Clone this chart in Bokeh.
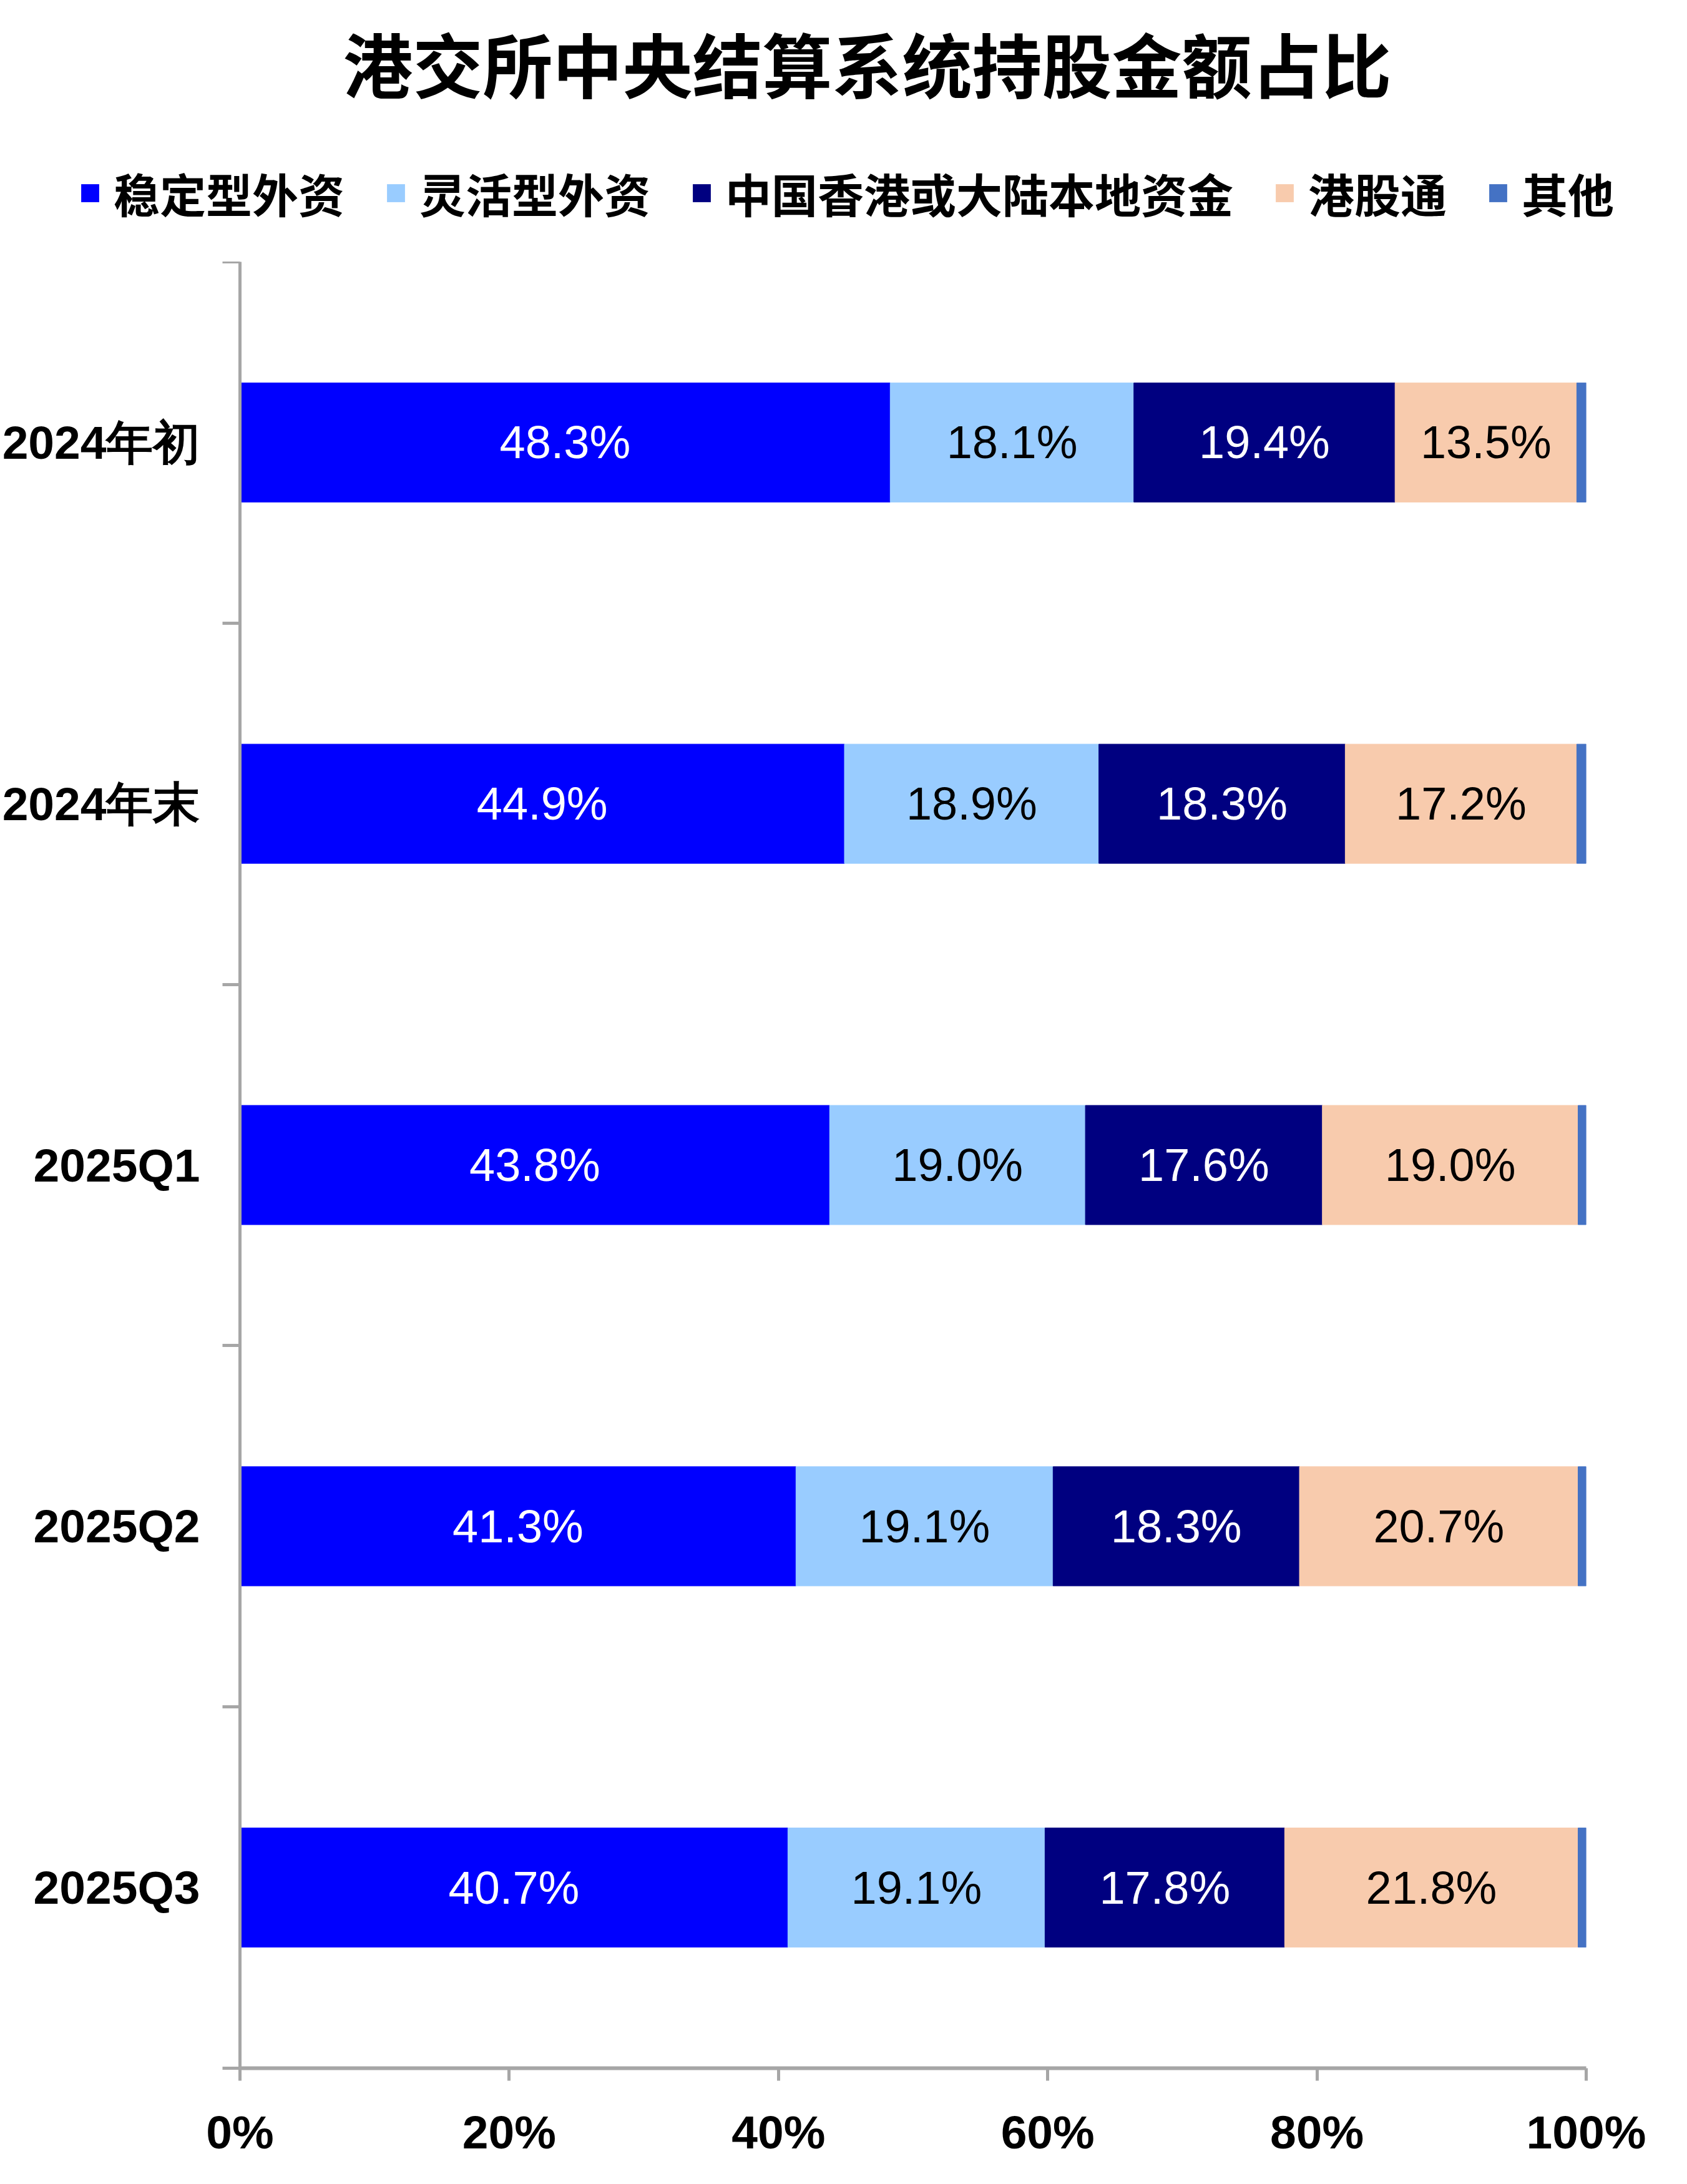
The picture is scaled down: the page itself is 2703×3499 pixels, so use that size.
from bokeh.plotting import figure
from bokeh.layouts import column
from bokeh.models import (Range1d, FixedTicker, PrintfTickFormatter, ColumnDataSource,
                          Legend, LegendItem)
from bokeh.core.properties import value
from bokeh.embed import file_html
from bokeh.resources import INLINE

# ---------------- data ----------------
title_text = "港交所中央结算系统持股金额占比"
categories = ["2024年初", "2024年末", "2025Q1", "2025Q2", "2025Q3"]
series_names = ["稳定型外资", "灵活型外资", "中国香港或大陆本地资金", "港股通", "其他"]
stable_foreign = [48.3, 44.9, 43.8, 41.3, 40.7]
flexible_foreign = [18.1, 18.9, 19.0, 19.1, 19.1]
local_funds = [19.4, 18.3, 17.6, 18.3, 17.8]
connect_funds = [13.5, 17.2, 19.0, 20.7, 21.8]
others = [0.7, 0.7, 0.6, 0.6, 0.6]
x_ticks = [0, 20, 40, 60, 80, 100]

colors = ["#0000FF", "#99CCFF", "#000080", "#F8CBAD", "#4472C4"]
label_colors = ["#FFFFFF", "#000000", "#FFFFFF", "#000000", None]

series = [stable_foreign, flexible_foreign, local_funds, connect_funds, others]
keys = ["s%d" % i for i in range(len(series))]

n = len(categories)
ypos = [n - 0.5 - i for i in range(n)]

src = dict(y=ypos, cat=categories)
for k, s in zip(keys, series):
    src[k] = s
source = ColumnDataSource(src)

lx, ly, lt, lc = [], [], [], []
for i in range(n):
    start = 0.0
    for j, s in enumerate(series):
        v = s[i]
        if label_colors[j] is not None:
            lx.append(start + v / 2.0)
            ly.append(ypos[i])
            lt.append("%.1f%%" % v)
            lc.append(label_colors[j])
        start += v
label_source = ColumnDataSource(dict(x=lx, y=ly, text=lt, color=lc))

# ---------------- layout constants ----------------
W = 2686
HT = 419             # header figure (title + legend)
HM = 3480 - HT       # main chart figure
BL = 382             # left border of main frame
FW = 2159            # frame width
FH = 2894            # frame height

# ---------------- header figure ----------------
# note: font sizes of exactly N00px break the svg font parser
top = figure(width=W, height=HT, output_backend="svg", toolbar_location=None, tools="",
             min_border=0, x_axis_location=None, y_axis_location=None)
if "frame_align" in top.properties():
    top.frame_align = False
    fl, fw = 0, W
else:
    fl, fw = BL, FW
top.x_range = Range1d(fl, fl + fw)
top.y_range = Range1d(0, HT)
top.outline_line_color = None
top.background_fill_color = "white"
top.border_fill_color = "white"
top.grid.visible = False

top.text(x=[1389], y=[HT - 99], text=[title_text], text_align="center",
         text_baseline="middle", text_font=value("Noto Sans CJK SC"),
         text_font_style=value("bold"), text_font_size=value("112px"),
         text_color="black")

# zero-width proxies (invisible) that give the legend its colour swatches
proxies = []
for k, c in zip(keys, colors):
    proxies.append(top.hbar(y="y", left=k, right=k, height=1, source=source,
                            fill_color=c, line_color=None))

legend = Legend(items=[LegendItem(label=nm, renderers=[r]) for nm, r in zip(series_names, proxies)],
                orientation="horizontal", location=(126 - fl, 57),
                glyph_width=36, glyph_height=36, label_standoff=20, spacing=64,
                padding=0, margin=0, border_line_color=None, background_fill_alpha=0,
                label_text_font="Noto Sans CJK SC", label_text_font_style="bold",
                label_text_font_size="74px", label_text_color="black")
top.add_layout(legend)

# ---------------- main figure ----------------
p = figure(width=W, height=HM, output_backend="svg", toolbar_location=None, tools="",
           x_range=Range1d(0, 100), y_range=Range1d(0, n),
           min_border_left=BL, min_border_top=0,
           min_border_right=W - BL - FW, min_border_bottom=HM - FH)
p.outline_line_color = None
p.xgrid.grid_line_color = None
p.ygrid.grid_line_color = None
p.background_fill_color = "white"
p.border_fill_color = "white"

renderers = p.hbar_stack(keys, y="y", height=0.33, color=colors, line_width=1,
                         source=source)

p.text(x="x", y="y", text="text", text_color="color", source=label_source,
       text_align="center", text_baseline="middle",
       text_font=value("Liberation Sans"), text_font_size=value("74px"))

axis_gray = "#A6A6A6"

ya = p.yaxis[0]
ya.ticker = FixedTicker(ticks=ypos, minor_ticks=list(range(n + 1)))
ya.major_label_overrides = {y: c for y, c in zip(ypos, categories)}
ya.major_tick_line_color = None
ya.major_tick_in = 0
ya.major_tick_out = 0
ya.minor_tick_line_color = axis_gray
ya.minor_tick_line_width = 5
ya.minor_tick_in = 0
ya.minor_tick_out = 28
ya.axis_line_color = axis_gray
ya.axis_line_width = 5
ya.major_label_standoff = 36
ya.major_label_text_font = "Liberation Sans"
ya.major_label_text_font_style = "bold"
ya.major_label_text_font_size = "75px"
ya.major_label_text_color = "black"

xa = p.xaxis[0]
xa.ticker = FixedTicker(ticks=x_ticks)
xa.formatter = PrintfTickFormatter(format="%d%%")
xa.major_tick_line_color = axis_gray
xa.major_tick_line_width = 5
xa.major_tick_in = 0
xa.major_tick_out = 20
xa.minor_tick_line_color = None
xa.axis_line_color = axis_gray
xa.axis_line_width = 6
xa.major_label_standoff = 40
xa.major_label_text_font = "Liberation Sans"
xa.major_label_text_font_style = "bold"
xa.major_label_text_font_size = "75px"
xa.major_label_text_color = "black"

layout = column(top, p, spacing=0)
open("out.html", "w").write(file_html(layout, INLINE))
